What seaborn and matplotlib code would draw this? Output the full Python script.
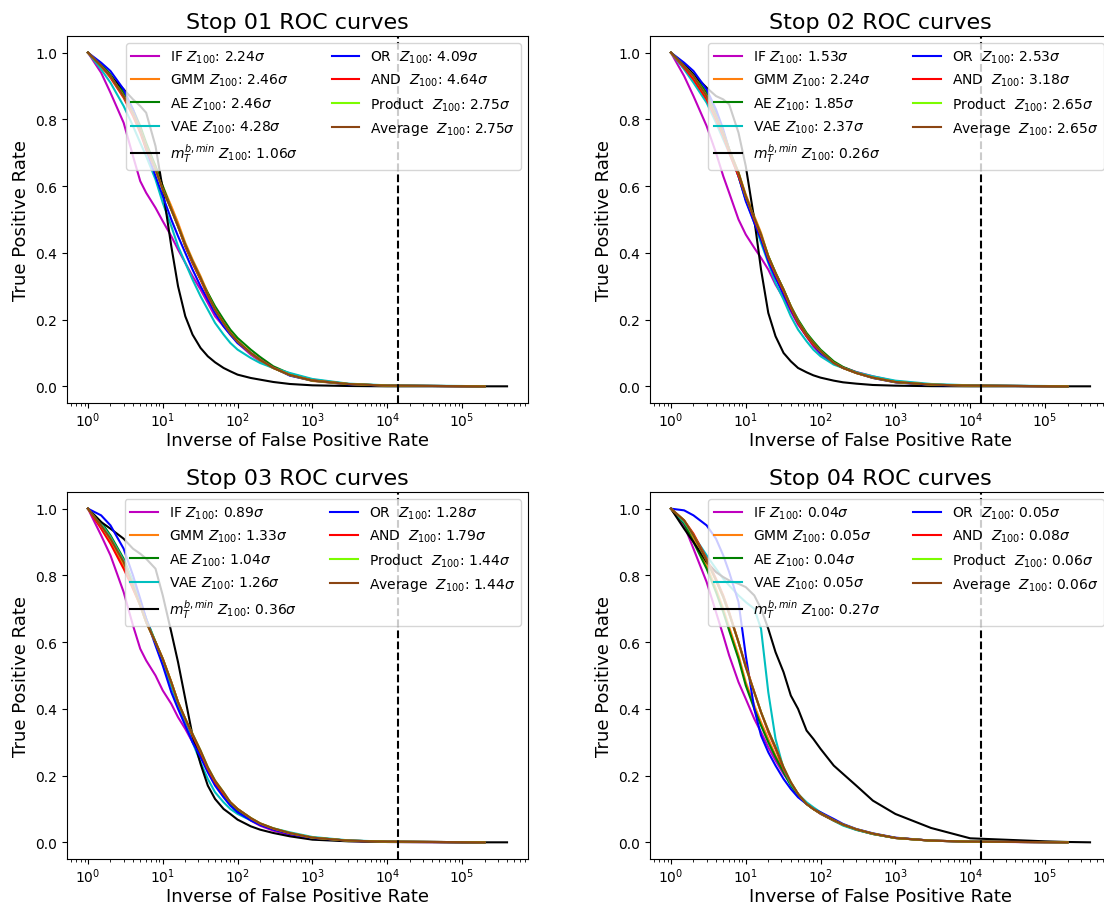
import matplotlib
matplotlib.use("Agg")
import matplotlib.pyplot as plt
import seaborn as sns
import pandas as pd

# inverse FPR sample points (shared by all curves), black curve runs a bit further
X = [1, 1.5, 2, 3, 4, 5, 6, 8, 10, 13, 16, 20, 25, 32, 40, 50, 65, 80, 100,
     150, 200, 300, 500, 1000, 3000, 1e4, 1e5, 2e5]
X_MT = X + [4e5]
CUT = 1.4e4  # dashed line
XTICKS = [1, 10, 100, 1e3, 1e4, 1e5]

methods = ["IF", "GMM", "AE", "VAE", "MT", "OR", "AND", "Product", "Average"]
colors = ["m", "#ff7f0e", "g", "c", "k", "b", "r", "#7cfc00", "#8b4513"]
names = ["IF ", "GMM ", "AE ", "VAE ", r"$m_T^{b,min}$ ", "OR  ", "AND  ",
         "Product  ", "Average  "]

# Z100 per stop
Z_IF = [2.24, 1.53, 0.89, 0.04]
Z_GMM = [2.46, 2.24, 1.33, 0.05]
Z_AE = [2.46, 1.85, 1.04, 0.04]
Z_VAE = [4.28, 2.37, 1.26, 0.05]
Z_MT = [1.06, 0.26, 0.36, 0.27]
Z_OR = [4.09, 2.53, 1.28, 0.05]
Z_AND = [4.64, 3.18, 1.79, 0.08]
Z_PROD = [2.75, 2.65, 1.44, 0.06]
Z_AVG = [2.75, 2.65, 1.44, 0.06]

# ---- stop 01 TPR
S1_IF = [1.0, 0.94, 0.88, 0.79, 0.69, 0.615, 0.58, 0.535, 0.495, 0.45, 0.41, 0.37, 0.33, 0.29, 0.25, 0.21, 0.18, 0.155, 0.13, 0.095, 0.075, 0.055, 0.035, 0.018, 0.007, 0.002, 0.0005, 0.0]
S1_GMM = [1.0, 0.96, 0.93, 0.87, 0.82, 0.77, 0.72, 0.66, 0.60, 0.54, 0.49, 0.43, 0.38, 0.33, 0.28, 0.235, 0.19, 0.16, 0.135, 0.10, 0.078, 0.055, 0.033, 0.016, 0.006, 0.002, 0.0005, 0.0]
S1_AE = [1.0, 0.965, 0.935, 0.88, 0.83, 0.78, 0.73, 0.66, 0.60, 0.53, 0.48, 0.42, 0.37, 0.32, 0.28, 0.24, 0.20, 0.17, 0.145, 0.11, 0.088, 0.06, 0.038, 0.02, 0.007, 0.002, 0.0005, 0.0]
S1_VAE = [1.0, 0.95, 0.91, 0.84, 0.78, 0.73, 0.69, 0.62, 0.55, 0.48, 0.42, 0.37, 0.32, 0.27, 0.23, 0.19, 0.155, 0.13, 0.11, 0.085, 0.07, 0.055, 0.04, 0.022, 0.008, 0.003, 0.001, 0.0]
S1_MT = [1.0, 0.96, 0.93, 0.89, 0.86, 0.84, 0.82, 0.72, 0.59, 0.42, 0.30, 0.21, 0.155, 0.115, 0.09, 0.072, 0.055, 0.045, 0.035, 0.025, 0.02, 0.013, 0.007, 0.003, 0.001, 0.0, 0.0, 0.0, 0.0]
S1_OR = [1.0, 0.97, 0.945, 0.89, 0.83, 0.77, 0.71, 0.63, 0.57, 0.50, 0.45, 0.40, 0.35, 0.30, 0.26, 0.22, 0.18, 0.155, 0.13, 0.10, 0.08, 0.056, 0.032, 0.017, 0.006, 0.002, 0.0005, 0.0]
S1_AND = [1.0, 0.96, 0.925, 0.865, 0.81, 0.76, 0.71, 0.65, 0.59, 0.53, 0.48, 0.42, 0.37, 0.32, 0.27, 0.23, 0.19, 0.16, 0.135, 0.10, 0.08, 0.056, 0.034, 0.018, 0.007, 0.002, 0.0005, 0.0]
S1_PROD = [1.0, 0.96, 0.93, 0.87, 0.82, 0.77, 0.72, 0.65, 0.59, 0.53, 0.48, 0.425, 0.375, 0.325, 0.275, 0.23, 0.19, 0.16, 0.135, 0.10, 0.079, 0.055, 0.034, 0.017, 0.007, 0.002, 0.0005, 0.0]
S1_AVG = [1.0, 0.96, 0.93, 0.87, 0.82, 0.77, 0.72, 0.65, 0.59, 0.53, 0.48, 0.425, 0.375, 0.325, 0.275, 0.23, 0.19, 0.16, 0.135, 0.10, 0.079, 0.055, 0.034, 0.017, 0.007, 0.002, 0.0005, 0.0]

# ---- stop 02 TPR
S2_IF = [1.0, 0.93, 0.87, 0.78, 0.70, 0.63, 0.58, 0.50, 0.455, 0.415, 0.385, 0.35, 0.305, 0.265, 0.225, 0.185, 0.15, 0.12, 0.095, 0.07, 0.057, 0.043, 0.03, 0.015, 0.005, 0.002, 0.0005, 0.0]
S2_GMM = [1.0, 0.955, 0.92, 0.86, 0.80, 0.75, 0.71, 0.64, 0.575, 0.51, 0.46, 0.39, 0.34, 0.29, 0.24, 0.195, 0.155, 0.13, 0.105, 0.07, 0.055, 0.04, 0.025, 0.012, 0.005, 0.002, 0.0005, 0.0]
S2_AE = [1.0, 0.965, 0.935, 0.88, 0.82, 0.76, 0.71, 0.63, 0.56, 0.50, 0.45, 0.39, 0.34, 0.29, 0.24, 0.20, 0.16, 0.135, 0.11, 0.075, 0.058, 0.042, 0.027, 0.013, 0.005, 0.002, 0.0005, 0.0]
S2_VAE = [1.0, 0.95, 0.91, 0.85, 0.79, 0.74, 0.70, 0.63, 0.56, 0.49, 0.43, 0.37, 0.31, 0.26, 0.21, 0.17, 0.135, 0.11, 0.09, 0.065, 0.055, 0.042, 0.03, 0.017, 0.007, 0.003, 0.001, 0.0]
S2_MT = [1.0, 0.965, 0.935, 0.895, 0.87, 0.86, 0.845, 0.76, 0.66, 0.50, 0.35, 0.22, 0.15, 0.10, 0.075, 0.055, 0.042, 0.033, 0.026, 0.017, 0.012, 0.008, 0.004, 0.002, 0.0005, 0.0, 0.0, 0.0, 0.0]
S2_OR = [1.0, 0.97, 0.945, 0.89, 0.83, 0.77, 0.71, 0.63, 0.555, 0.49, 0.44, 0.375, 0.325, 0.275, 0.23, 0.19, 0.15, 0.125, 0.10, 0.07, 0.055, 0.04, 0.025, 0.012, 0.004, 0.002, 0.0005, 0.0]
S2_AND = [1.0, 0.955, 0.92, 0.86, 0.80, 0.75, 0.70, 0.63, 0.57, 0.50, 0.45, 0.385, 0.335, 0.285, 0.235, 0.19, 0.15, 0.125, 0.105, 0.07, 0.055, 0.04, 0.026, 0.013, 0.005, 0.002, 0.0005, 0.0]
S2_PROD = [1.0, 0.96, 0.93, 0.87, 0.81, 0.76, 0.71, 0.64, 0.57, 0.505, 0.455, 0.39, 0.34, 0.29, 0.24, 0.195, 0.155, 0.13, 0.105, 0.07, 0.055, 0.04, 0.026, 0.013, 0.005, 0.002, 0.0005, 0.0]
S2_AVG = [1.0, 0.96, 0.93, 0.87, 0.81, 0.76, 0.71, 0.64, 0.57, 0.505, 0.455, 0.39, 0.34, 0.29, 0.24, 0.195, 0.155, 0.13, 0.105, 0.07, 0.055, 0.04, 0.026, 0.013, 0.005, 0.002, 0.0005, 0.0]

# ---- stop 03 TPR
S3_IF = [1.0, 0.92, 0.86, 0.75, 0.65, 0.58, 0.545, 0.50, 0.455, 0.415, 0.375, 0.34, 0.30, 0.26, 0.22, 0.18, 0.14, 0.115, 0.095, 0.065, 0.05, 0.035, 0.022, 0.012, 0.004, 0.001, 0.0, 0.0]
S3_GMM = [1.0, 0.95, 0.905, 0.83, 0.76, 0.71, 0.66, 0.60, 0.55, 0.48, 0.42, 0.37, 0.32, 0.27, 0.22, 0.18, 0.145, 0.12, 0.10, 0.072, 0.056, 0.041, 0.027, 0.014, 0.005, 0.002, 0.0005, 0.0]
S3_AE = [1.0, 0.96, 0.92, 0.85, 0.78, 0.72, 0.67, 0.60, 0.54, 0.47, 0.41, 0.36, 0.31, 0.265, 0.215, 0.175, 0.14, 0.115, 0.095, 0.07, 0.055, 0.04, 0.027, 0.014, 0.005, 0.002, 0.0005, 0.0]
S3_VAE = [1.0, 0.955, 0.915, 0.845, 0.78, 0.72, 0.67, 0.60, 0.54, 0.47, 0.41, 0.36, 0.30, 0.24, 0.19, 0.15, 0.12, 0.10, 0.085, 0.066, 0.054, 0.042, 0.03, 0.016, 0.006, 0.002, 0.0005, 0.0]
S3_MT = [1.0, 0.96, 0.94, 0.91, 0.88, 0.865, 0.85, 0.82, 0.74, 0.63, 0.54, 0.43, 0.32, 0.235, 0.17, 0.13, 0.10, 0.085, 0.068, 0.048, 0.038, 0.028, 0.018, 0.008, 0.003, 0.001, 0.0, 0.0, 0.0]
S3_OR = [1.0, 0.98, 0.95, 0.88, 0.80, 0.73, 0.67, 0.59, 0.53, 0.45, 0.40, 0.35, 0.30, 0.255, 0.21, 0.17, 0.135, 0.11, 0.09, 0.066, 0.052, 0.038, 0.025, 0.013, 0.005, 0.002, 0.0005, 0.0]
S3_AND = [1.0, 0.94, 0.895, 0.82, 0.76, 0.71, 0.66, 0.60, 0.55, 0.48, 0.42, 0.37, 0.32, 0.27, 0.22, 0.18, 0.145, 0.12, 0.10, 0.072, 0.056, 0.041, 0.027, 0.014, 0.005, 0.002, 0.0005, 0.0]
S3_PROD = [1.0, 0.95, 0.91, 0.84, 0.77, 0.71, 0.66, 0.60, 0.55, 0.48, 0.42, 0.37, 0.325, 0.275, 0.225, 0.185, 0.15, 0.12, 0.10, 0.073, 0.057, 0.042, 0.028, 0.014, 0.005, 0.002, 0.0005, 0.0]
S3_AVG = [1.0, 0.95, 0.91, 0.84, 0.77, 0.71, 0.66, 0.60, 0.55, 0.48, 0.42, 0.37, 0.325, 0.275, 0.225, 0.185, 0.15, 0.12, 0.10, 0.073, 0.057, 0.042, 0.028, 0.014, 0.005, 0.002, 0.0005, 0.0]

# ---- stop 04 TPR
S4_IF = [1.0, 0.95, 0.88, 0.78, 0.69, 0.62, 0.56, 0.48, 0.43, 0.37, 0.33, 0.285, 0.245, 0.205, 0.175, 0.145, 0.115, 0.10, 0.085, 0.065, 0.052, 0.038, 0.025, 0.013, 0.005, 0.002, 0.0, 0.0]
S4_GMM = [1.0, 0.96, 0.91, 0.83, 0.76, 0.70, 0.645, 0.56, 0.48, 0.41, 0.36, 0.31, 0.26, 0.215, 0.175, 0.14, 0.115, 0.10, 0.087, 0.066, 0.052, 0.038, 0.025, 0.013, 0.005, 0.002, 0.0005, 0.0]
S4_AE = [1.0, 0.955, 0.90, 0.82, 0.75, 0.69, 0.635, 0.55, 0.47, 0.40, 0.35, 0.30, 0.255, 0.21, 0.17, 0.14, 0.115, 0.10, 0.086, 0.065, 0.052, 0.038, 0.025, 0.013, 0.005, 0.002, 0.0005, 0.0]
S4_VAE = [1.0, 0.96, 0.92, 0.86, 0.82, 0.79, 0.77, 0.74, 0.72, 0.70, 0.64, 0.45, 0.31, 0.22, 0.175, 0.145, 0.12, 0.105, 0.09, 0.065, 0.05, 0.037, 0.025, 0.013, 0.005, 0.002, 0.0005, 0.0]
S4_MT = [1.0, 0.94, 0.90, 0.84, 0.81, 0.795, 0.785, 0.775, 0.765, 0.74, 0.70, 0.64, 0.57, 0.51, 0.44, 0.40, 0.335, 0.31, 0.28, 0.23, 0.205, 0.17, 0.125, 0.085, 0.043, 0.012, 0.003, 0.001, 0.0]
S4_OR = [1.0, 0.995, 0.98, 0.95, 0.91, 0.86, 0.81, 0.72, 0.56, 0.40, 0.32, 0.27, 0.23, 0.19, 0.16, 0.135, 0.115, 0.10, 0.09, 0.07, 0.055, 0.04, 0.027, 0.014, 0.005, 0.002, 0.0005, 0.0]
S4_AND = [1.0, 0.965, 0.925, 0.85, 0.79, 0.74, 0.69, 0.60, 0.53, 0.45, 0.39, 0.33, 0.28, 0.22, 0.18, 0.145, 0.115, 0.10, 0.087, 0.066, 0.053, 0.039, 0.026, 0.013, 0.005, 0.002, 0.0005, 0.0]
S4_PROD = [1.0, 0.965, 0.92, 0.845, 0.785, 0.735, 0.685, 0.60, 0.525, 0.45, 0.39, 0.335, 0.285, 0.225, 0.18, 0.145, 0.115, 0.10, 0.087, 0.066, 0.053, 0.039, 0.026, 0.013, 0.005, 0.002, 0.0005, 0.0]
S4_AVG = [1.0, 0.965, 0.92, 0.845, 0.785, 0.735, 0.685, 0.60, 0.525, 0.45, 0.39, 0.335, 0.285, 0.225, 0.18, 0.145, 0.115, 0.10, 0.087, 0.066, 0.053, 0.039, 0.026, 0.013, 0.005, 0.002, 0.0005, 0.0]

stops = [
    [S1_IF, S1_GMM, S1_AE, S1_VAE, S1_MT, S1_OR, S1_AND, S1_PROD, S1_AVG],
    [S2_IF, S2_GMM, S2_AE, S2_VAE, S2_MT, S2_OR, S2_AND, S2_PROD, S2_AVG],
    [S3_IF, S3_GMM, S3_AE, S3_VAE, S3_MT, S3_OR, S3_AND, S3_PROD, S3_AVG],
    [S4_IF, S4_GMM, S4_AE, S4_VAE, S4_MT, S4_OR, S4_AND, S4_PROD, S4_AVG],
]
zvals = [Z_IF, Z_GMM, Z_AE, Z_VAE, Z_MT, Z_OR, Z_AND, Z_PROD, Z_AVG]

fig = plt.figure(figsize=(11.04, 9.04), dpi=100)
W, H = 1104, 904
rects = [(67, 500), (650, 500), (67, 44), (650, 44)]

for s, (px, py) in enumerate(rects):
    ax = fig.add_axes([px / W, py / H, 461 / W, 367 / H])
    ax.set_xscale("log")
    for m, curve in enumerate(stops[s]):
        xs = X_MT if methods[m] == "MT" else X
        df = pd.DataFrame({"x": xs, "y": curve})
        lab = names[m] + r"$Z_{100}$: " + f"{zvals[m][s]:.2f}" + r"$\sigma$"
        sns.lineplot(data=df, x="x", y="y", ax=ax, color=colors[m],
                     label=lab, linewidth=1.5, sort=False)
    ax.axvline(CUT, color="k", ls="--", lw=1.5)
    ax.set_xticks(XTICKS)  # only decades that are in view
    ax.set_title(f"Stop {s + 1:02d} ROC curves", fontsize=16)
    ax.tick_params(axis="x", which="both", pad=2)
    ax.set_xlabel("Inverse of False Positive Rate", fontsize=13, labelpad=1)
    ax.set_ylabel("True Positive Rate", fontsize=13)
    ax.legend(ncol=2, loc="upper right", fontsize=10, columnspacing=2.4)

fig.savefig("out.png", dpi=100)
